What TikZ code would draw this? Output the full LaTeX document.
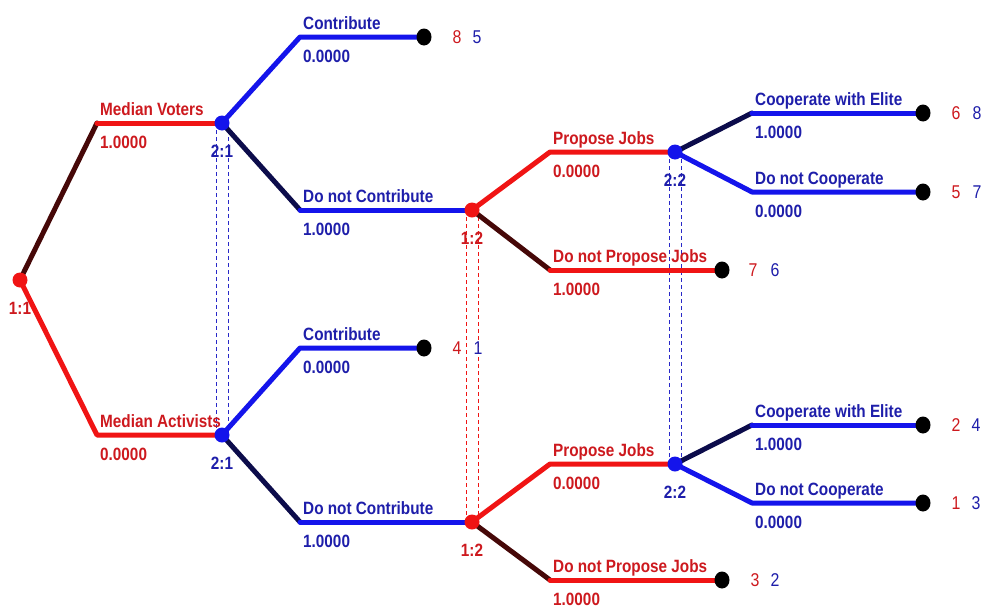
\documentclass[tikz,border=0pt]{standalone}
\usepackage{fontspec}
\usetikzlibrary{shapes.geometric}
\setmainfont{Liberation Sans}[FakeStretch=0.86]
\definecolor{lred}{RGB}{240,20,20}
\definecolor{lblue}{RGB}{20,20,235}
\definecolor{tred}{RGB}{205,25,30}
\definecolor{tblue}{RGB}{30,30,170}
\definecolor{dred}{RGB}{70,8,8}
\definecolor{dblue}{RGB}{12,12,75}
\definecolor{dashblue}{RGB}{40,40,200}
\begin{document}
\begin{tikzpicture}[x=1pt,y=-1pt,
  br/.style={line width=5pt,line join=round,line cap=round},
  redbr/.style={br,draw=lred},
  bluebr/.style={br,draw=lblue},
  dredbr/.style={br,draw=dred},
  dbluebr/.style={br,draw=dblue},
  txt/.style={inner sep=0pt,anchor=base west,font=\fontsize{17.8}{20}\selectfont\bfseries},
  rtxt/.style={txt,text=tred},
  btxt/.style={txt,text=tblue},
  ntxt/.style={inner sep=0pt,anchor=base,font=\fontsize{17.8}{20}\selectfont\bfseries},
  pay/.style={inner sep=0pt,anchor=center,font=\fontsize{18.5}{20}\selectfont},
  rnode/.style={circle,fill=lred,inner sep=0pt,minimum size=15pt},
  bnode/.style={circle,fill=lblue,inner sep=0pt,minimum size=15pt},
  term/.style={ellipse,fill=black,inner sep=0pt,minimum width=15pt,minimum height=17pt},
  dsh/.style={line width=1pt,dash pattern=on 4pt off 3pt}
]
\useasboundingbox (0,0) rectangle (985,608);
% coordinates
\coordinate (r) at (20,280);
\coordinate (a1) at (97,123);  \coordinate (v1) at (222,123);
\coordinate (a2) at (97,435);  \coordinate (v2) at (222,435);
\coordinate (c1) at (300,37);  \coordinate (t1) at (424,37);
\coordinate (d1) at (300,210); \coordinate (p1) at (472,210);
\coordinate (e1) at (550,152); \coordinate (q1) at (675,152);
\coordinate (f1) at (550,270); \coordinate (t2) at (722,270);
\coordinate (g1) at (752,113); \coordinate (t3) at (923,113);
\coordinate (h1) at (752,192); \coordinate (t4) at (923,192);
\coordinate (c2) at (300,348); \coordinate (t5) at (424,348);
\coordinate (d2) at (300,522); \coordinate (p2) at (472,522);
\coordinate (e2) at (550,464); \coordinate (q2) at (675,464);
\coordinate (f2) at (550,580); \coordinate (t6) at (722,580);
\coordinate (g2) at (752,425); \coordinate (t7) at (923,425);
\coordinate (h2) at (752,503); \coordinate (t8) at (923,503);
% information sets (dashed)
\draw[dsh,dashblue] ([xshift=-5.5pt]v1) -- ([xshift=-5.5pt]v2);
\draw[dsh,dashblue] ([xshift=6pt]v1) -- ([xshift=6pt]v2);
\draw[dsh,lred] ([xshift=-5.5pt]p1) -- ([xshift=-5.5pt]p2);
\draw[dsh,lred] ([xshift=6pt]p1) -- ([xshift=6pt]p2);
\draw[dsh,dashblue] ([xshift=-5.5pt]q1) -- ([xshift=-5.5pt]q2);
\draw[dsh,dashblue] ([xshift=6pt]q1) -- ([xshift=6pt]q2);
% branches
\draw[dredbr] (r) -- (a1); \draw[redbr] (a1) -- (v1);
\draw[redbr] (r) -- (a2) -- (v2);
\draw[bluebr] (v1) -- (c1) -- (t1);
\draw[dbluebr] (v1) -- (d1); \draw[bluebr] (d1) -- (p1);
\draw[bluebr] (v2) -- (c2) -- (t5);
\draw[dbluebr] (v2) -- (d2); \draw[bluebr] (d2) -- (p2);
\draw[redbr] (p1) -- (e1) -- (q1);
\draw[dredbr] (p1) -- (f1); \draw[redbr] (f1) -- (t2);
\draw[redbr] (p2) -- (e2) -- (q2);
\draw[dredbr] (p2) -- (f2); \draw[redbr] (f2) -- (t6);
\draw[dbluebr] (q1) -- (g1); \draw[bluebr] (g1) -- (t3);
\draw[bluebr] (q1) -- (h1) -- (t4);
\draw[dbluebr] (q2) -- (g2); \draw[bluebr] (g2) -- (t7);
\draw[bluebr] (q2) -- (h2) -- (t8);
% decision nodes
\node[rnode] (nr) at (r) {};
\node[bnode] (nv1) at (v1) {};
\node[bnode] (nv2) at (v2) {};
\node[rnode] (np1) at (p1) {};
\node[rnode] (np2) at (p2) {};
\node[bnode] (nq1) at (q1) {};
\node[bnode] (nq2) at (q2) {};
% terminal nodes
\foreach \tm in {t1,t2,t3,t4,t5,t6,t7,t8} {\node[term] (n\tm) at (\tm) {};}
% node labels
\node[ntxt,text=tred] (lr) at ([shift={(0,34)}]r) {1:1};
\node[ntxt,text=tblue] (lv1) at ([shift={(0,34)}]v1) {2:1};
\node[ntxt,text=tblue] (lv2) at ([shift={(0,34)}]v2) {2:1};
\node[ntxt,text=tred] (lp1) at ([shift={(0,34)}]p1) {1:2};
\node[ntxt,text=tred] (lp2) at ([shift={(0,34)}]p2) {1:2};
\node[ntxt,text=tblue] (lq1) at ([shift={(0,34)}]q1) {2:2};
\node[ntxt,text=tblue] (lq2) at ([shift={(0,34)}]q2) {2:2};
% branch labels
\node[rtxt] (la1) at ([shift={(3,-8)}]a1) {Median Voters};
\node[rtxt] (pa1) at ([shift={(3,25)}]a1) {1.0000};
\node[rtxt] (la2) at ([shift={(3,-8)}]a2) {Median Activists};
\node[rtxt] (pa2) at ([shift={(3,25)}]a2) {0.0000};
\node[btxt] (lc1) at ([shift={(3,-8)}]c1) {Contribute};
\node[btxt] (pc1) at ([shift={(3,25)}]c1) {0.0000};
\node[btxt] (ld1) at ([shift={(3,-8)}]d1) {Do not Contribute};
\node[btxt] (pd1) at ([shift={(3,25)}]d1) {1.0000};
\node[btxt] (lc2) at ([shift={(3,-8)}]c2) {Contribute};
\node[btxt] (pc2) at ([shift={(3,25)}]c2) {0.0000};
\node[btxt] (ld2) at ([shift={(3,-8)}]d2) {Do not Contribute};
\node[btxt] (pd2) at ([shift={(3,25)}]d2) {1.0000};
\node[rtxt] (le1) at ([shift={(3,-8)}]e1) {Propose Jobs};
\node[rtxt] (pe1) at ([shift={(3,25)}]e1) {0.0000};
\node[rtxt] (lf1) at ([shift={(3,-8)}]f1) {Do not Propose Jobs};
\node[rtxt] (pf1) at ([shift={(3,25)}]f1) {1.0000};
\node[rtxt] (le2) at ([shift={(3,-8)}]e2) {Propose Jobs};
\node[rtxt] (pe2) at ([shift={(3,25)}]e2) {0.0000};
\node[rtxt] (lf2) at ([shift={(3,-8)}]f2) {Do not Propose Jobs};
\node[rtxt] (pf2) at ([shift={(3,25)}]f2) {1.0000};
\node[btxt] (lg1) at ([shift={(3,-8)}]g1) {Cooperate with Elite};
\node[btxt] (pg1) at ([shift={(3,25)}]g1) {1.0000};
\node[btxt] (lh1) at ([shift={(3,-8)}]h1) {Do not Cooperate};
\node[btxt] (ph1) at ([shift={(3,25)}]h1) {0.0000};
\node[btxt] (lg2) at ([shift={(3,-8)}]g2) {Cooperate with Elite};
\node[btxt] (pg2) at ([shift={(3,25)}]g2) {1.0000};
\node[btxt] (lh2) at ([shift={(3,-8)}]h2) {Do not Cooperate};
\node[btxt] (ph2) at ([shift={(3,25)}]h2) {0.0000};
% payoffs
\node[pay,text=tred]  (x1a) at ([shift={(33,0)}]t1) {8};
\node[pay,text=tblue] (x1b) at ([shift={(53,0)}]t1) {5};
\node[pay,text=tred]  (x2a) at ([shift={(31,0)}]t2) {7};
\node[pay,text=tblue] (x2b) at ([shift={(53,0)}]t2) {6};
\node[pay,text=tred]  (x3a) at ([shift={(33,0)}]t3) {6};
\node[pay,text=tblue] (x3b) at ([shift={(54,0)}]t3) {8};
\node[pay,text=tred]  (x4a) at ([shift={(33,0)}]t4) {5};
\node[pay,text=tblue] (x4b) at ([shift={(54,0)}]t4) {7};
\node[pay,text=tred]  (x5a) at ([shift={(33,0)}]t5) {4};
\node[pay,text=tblue] (x5b) at ([shift={(54,0)}]t5) {1};
\node[pay,text=tred]  (x6a) at ([shift={(33,0)}]t6) {3};
\node[pay,text=tblue] (x6b) at ([shift={(53,0)}]t6) {2};
\node[pay,text=tred]  (x7a) at ([shift={(33,0)}]t7) {2};
\node[pay,text=tblue] (x7b) at ([shift={(53,0)}]t7) {4};
\node[pay,text=tred]  (x8a) at ([shift={(33,0)}]t8) {1};
\node[pay,text=tblue] (x8b) at ([shift={(53,0)}]t8) {3};
\end{tikzpicture}
\end{document}
